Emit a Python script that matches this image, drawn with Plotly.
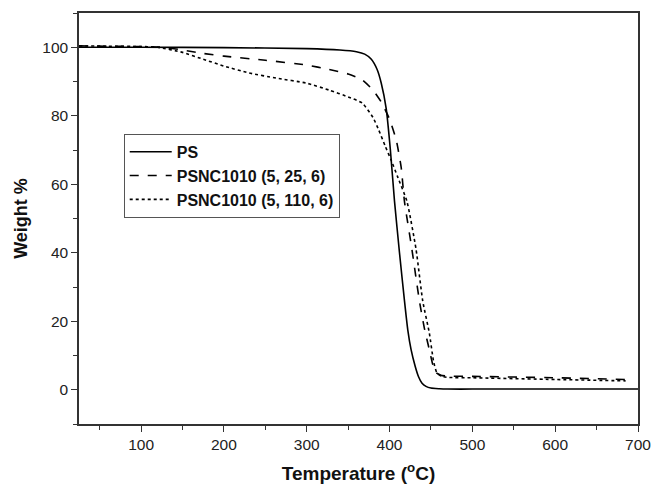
import plotly.graph_objects as go

# PS
ps_T = [25, 100, 200, 300, 340, 360, 370, 378, 385, 390, 396, 401, 406, 412, 418, 422, 426, 431, 435, 439, 444, 450, 460, 470, 500, 600, 700]
ps_W = [100, 100, 99.9, 99.6, 99.2, 98.7, 98.0, 96.5, 93.5, 89.5, 82, 70, 55, 40, 26, 17.5, 11.7, 6.8, 3.8, 2.0, 1.0, 0.5, 0.3, 0.2, 0.2, 0.2, 0.2]

# PSNC1010 (5, 25, 6)
d_T = [25, 60, 100, 125, 150, 175, 200, 250, 300, 327, 350, 367, 380, 390, 400, 408, 414, 418, 427, 436, 442, 448, 452, 456, 462, 470, 500, 600, 685]
d_W = [100.4, 100.3, 100.2, 100, 99.2, 98.2, 97.4, 96.2, 94.8, 93.5, 92.2, 90.5, 87.5, 84, 79, 73, 65, 55, 41, 26, 18, 11.7, 7.5, 5.0, 4.2, 4.0, 3.9, 3.5, 3.0]

# PSNC1010 (5, 110, 6)
o_T = [25, 60, 100, 120, 150, 175, 200, 230, 263, 300, 327, 350, 367, 380, 387, 395, 402, 410, 421, 432, 440, 448, 453, 457, 463, 472, 500, 600, 685]
o_W = [100.4, 100.3, 100.2, 100, 98.5, 96.5, 94.5, 92.5, 91, 89.5, 87.5, 85.5, 83.7, 79.5, 75.8, 71, 67, 62, 55, 41, 26, 16.6, 8.5, 5.0, 3.9, 3.6, 3.5, 3.0, 2.6]

names = ["PS", "PSNC1010 (5, 25, 6)", "PSNC1010 (5, 110, 6)"]
x_ticks = [100, 200, 300, 400, 500, 600, 700]
y_ticks = [0, 20, 40, 60, 80, 100]

FONT = "Liberation Sans, Arial, sans-serif"

fig = go.Figure()
fig.add_trace(go.Scatter(x=ps_T, y=ps_W, mode="lines", name=names[0],
                         line=dict(color="black", width=1.6, shape="spline", smoothing=0.5)))
fig.add_trace(go.Scatter(x=d_T, y=d_W, mode="lines", name=names[1],
                         line=dict(color="black", width=1.6, dash="dash", shape="spline", smoothing=0.5)))
fig.add_trace(go.Scatter(x=o_T, y=o_W, mode="lines", name=names[2],
                         line=dict(color="black", width=1.6, dash="dot", shape="spline", smoothing=0.5)))

axis_common = dict(
    showline=True, linecolor="#333", linewidth=1.5, mirror=True,
    ticks="outside", ticklen=6, tickwidth=1.2, tickcolor="#333",
    showgrid=False, zeroline=False, automargin=False,
    ticklabeloverflow="allow",
    tickfont=dict(family=FONT, size=15.5, color="#222"),
)

fig.update_layout(
    width=651, height=489,
    margin=dict(l=79, r=13, t=13, b=65),
    paper_bgcolor="white", plot_bgcolor="white",
    font=dict(family=FONT, color="#111"),
    xaxis=dict(range=[25, 700], tickvals=x_ticks,
               minor=dict(ticks="outside", ticklen=4, tickcolor="#333", dtick=50, tick0=50),
               title=dict(text="<b>Temperature (<sup>o</sup>C)</b>", font=dict(family=FONT, size=19, color="#111"), standoff=14),
               **axis_common),
    yaxis=dict(range=[-10, 110], tickvals=y_ticks,
               minor=dict(ticks="outside", ticklen=4, tickcolor="#333", dtick=10, tick0=10),
               title=dict(text="<b>Weight %</b>", font=dict(family=FONT, size=18, color="#111"), standoff=10),
               **axis_common),
    legend=dict(x=0.08, y=0.706, xanchor="left", yanchor="top",
                bordercolor="#555", borderwidth=1, bgcolor="white",
                font=dict(family=FONT, size=16, color="#111"),
                tracegroupgap=0, itemwidth=42),
    showlegend=True,
)

for tr in fig.data:
    tr.name = "<b>" + tr.name + "</b>"

fig.write_html("out.html")
